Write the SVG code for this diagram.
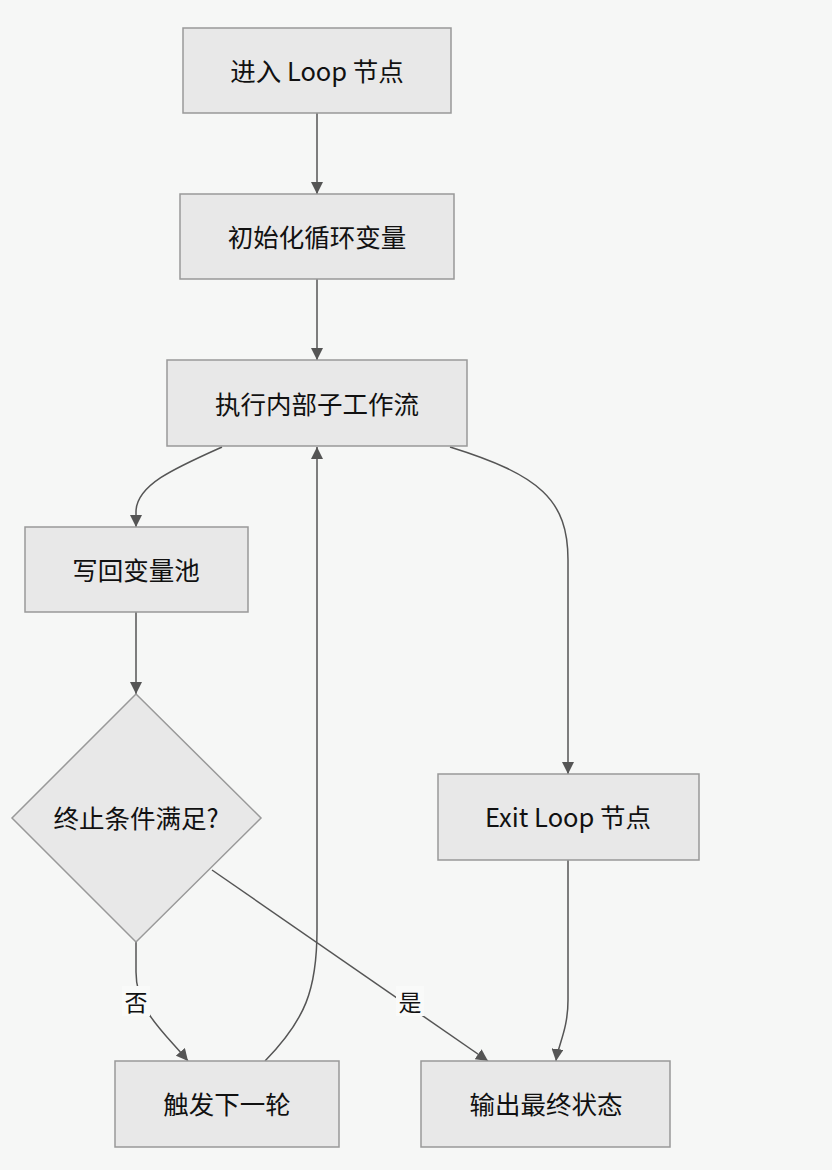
<svg xmlns="http://www.w3.org/2000/svg" width="832" height="1170" viewBox="0 0 832 1170">
<style>
.node rect, .node polygon { fill: #e8e8e8; stroke: #999; stroke-width: 1.5; }
.node text { font-family: "Noto Sans CJK SC", "Noto Sans", sans-serif; font-size: 25.5px; fill: #111; text-anchor: middle; dominant-baseline: central; }
.edge { fill: none; stroke: #555; stroke-width: 1.5; }
.lbl rect { fill: #f9faf9; }
.lbl text { font-family: "Noto Sans CJK SC", "Noto Sans", sans-serif; font-size: 23px; fill: #111; text-anchor: middle; dominant-baseline: central; }
</style>
<defs>
<marker id="arr" viewBox="0 0 10 10" refX="10" refY="5" markerWidth="12" markerHeight="12" markerUnits="userSpaceOnUse" orient="auto">
<path d="M0,0 L10,5 L0,10 z" fill="#555"/>
</marker>
</defs>
<rect x="0" y="0" width="832" height="1170" fill="#f6f7f6"/>
<g id="connectors">
<path class="edge" d="M317,113 L317,194" marker-end="url(#arr)"/>
<path class="edge" d="M317,279 L317,360" marker-end="url(#arr)"/>
<path class="edge" d="M222,447 C175,468 136,485 136,512 L136,527" marker-end="url(#arr)"/>
<path class="edge" d="M450,447 C540,475 568,500 568,560 L568,774" marker-end="url(#arr)"/>
<path class="edge" d="M136,612 L136,694" marker-end="url(#arr)"/>
<path class="edge" d="M136,942 L136,972 C136,1010 162,1030 188,1061" marker-end="url(#arr)"/>
<path class="edge" d="M212,870 L488,1061" marker-end="url(#arr)"/>
<path class="edge" d="M265,1061 C305,1020 317,990 317,930 L317,447" marker-end="url(#arr)"/>
<path class="edge" d="M568,860 L568,1000 C568,1030 558,1045 556,1061" marker-end="url(#arr)"/>
<g class="lbl"><rect x="122" y="986" width="28" height="30"/><text x="136" y="1001">否</text></g>
<g class="lbl"><rect x="396" y="986" width="28" height="30"/><text x="410" y="1001">是</text></g>
</g>
<g id="n1" class="node"><rect x="183" y="28" width="268" height="85"/><text x="317" y="69">进入 Loop 节点</text></g>
<g id="n2" class="node"><rect x="180" y="194" width="274" height="85"/><text x="317" y="235">初始化循环变量</text></g>
<g id="n3" class="node"><rect x="167" y="360" width="300" height="86"/><text x="317" y="402">执行内部子工作流</text></g>
<g id="n4" class="node"><rect x="25" y="527" width="223" height="85"/><text x="136" y="568">写回变量池</text></g>
<g id="n5" class="node"><polygon points="136,694 261,818 136,942 12,818"/><text x="136" y="816">终止条件满足?</text></g>
<g id="n6" class="node"><rect x="438" y="774" width="261" height="86"/><text x="568" y="815">Exit Loop 节点</text></g>
<g id="n7" class="node"><rect x="115" y="1061" width="224" height="86"/><text x="227" y="1102">触发下一轮</text></g>
<g id="n8" class="node"><rect x="421" y="1061" width="249" height="86"/><text x="546" y="1102">输出最终状态</text></g>
</svg>
